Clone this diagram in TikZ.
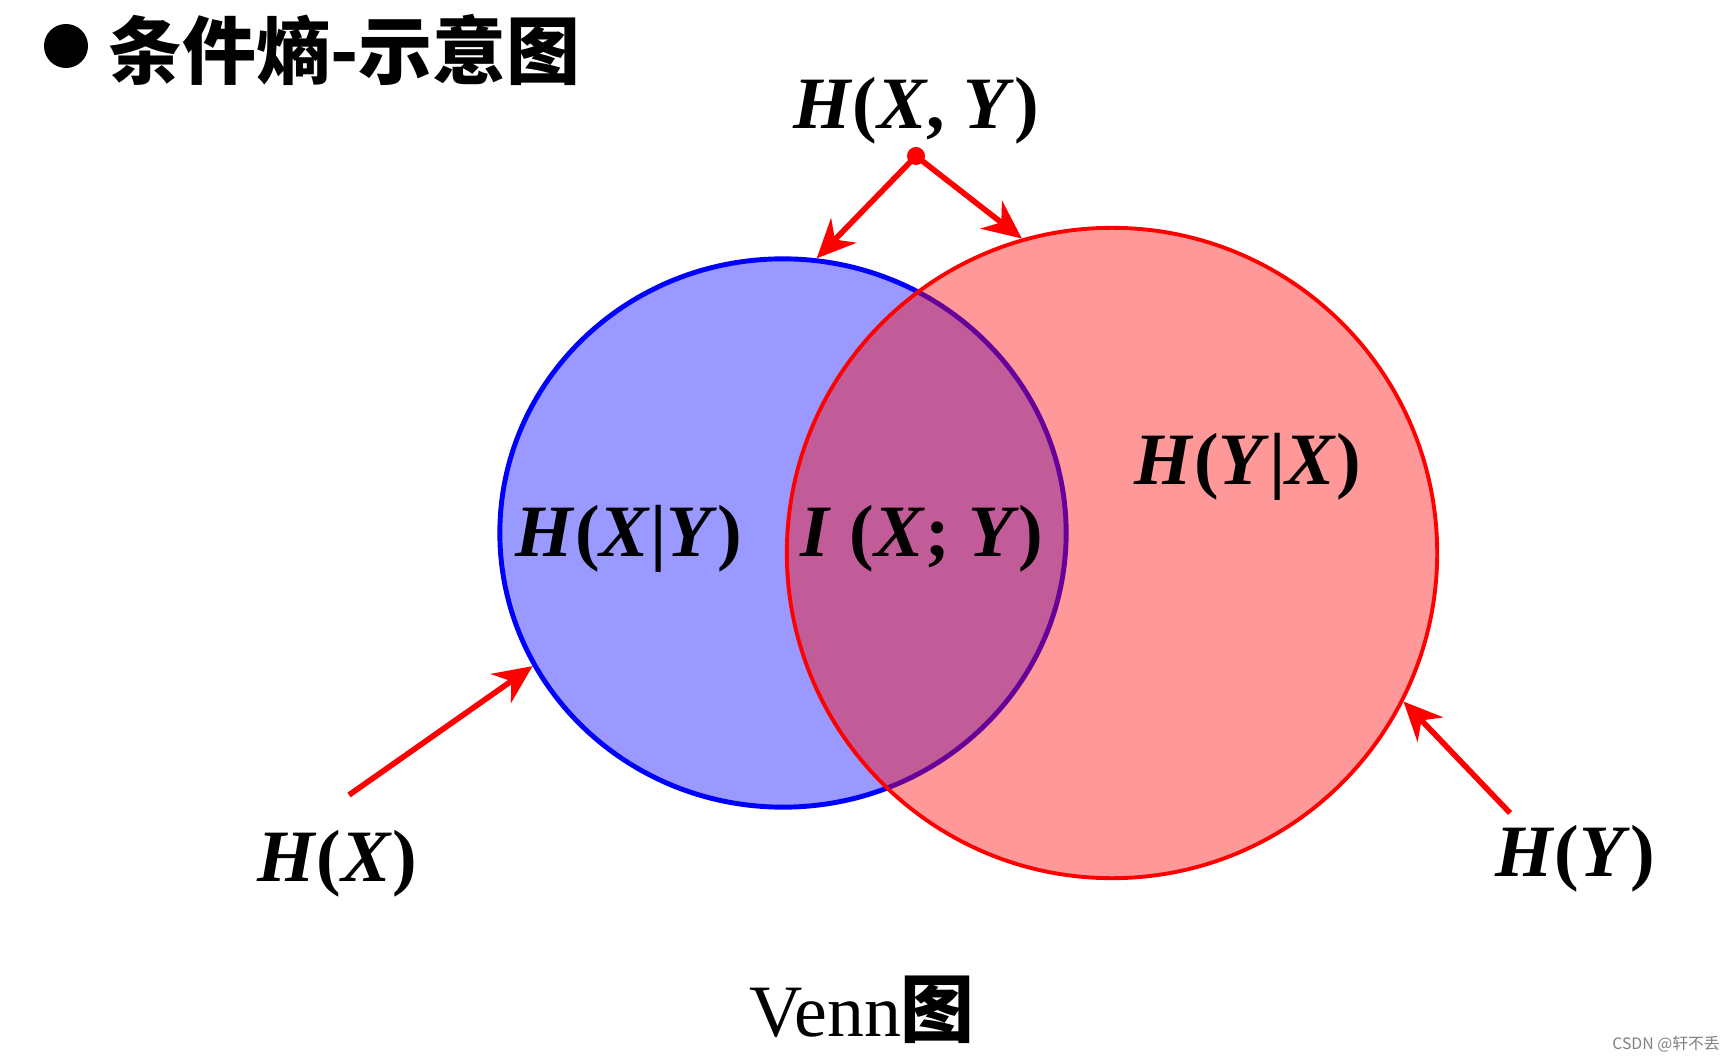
\documentclass[tikz,border=0pt]{standalone}
\usepackage{fontspec}
\setmainfont{Liberation Serif}
\newfontfamily\cjk{Noto Sans CJK SC}
\usetikzlibrary{arrows.meta, shapes.geometric}

% bold italic letter for the entropy labels
\newcommand{\bv}[1]{\textit{#1}}

\begin{document}
\begin{tikzpicture}[x=0.01cm, y=-0.01cm,
            setx/.style={ellipse, draw=blue, line width=1.4pt, fill=blue, fill opacity=0.4, minimum width=5.66cm, minimum height=5.48cm, inner sep=0pt},
            sety/.style={circle, draw=red, line width=1.1pt, fill=red, fill opacity=0.4, minimum size=6.5cm, inner sep=0pt},
            lbl/.style={font=\fontsize{21}{25}\selectfont\bfseries, inner sep=0pt},
            arr/.style={draw=red, line width=1.6pt, -{Stealth[length=11pt, width=10pt]}},
            dot/.style={circle, fill=red, inner sep=0pt, minimum size=0.18cm}
        ]
            \useasboundingbox (0,0) rectangle (1731,1061);

            % --- title ---
            \node[circle, fill=black, inner sep=0pt, minimum size=0.44cm] (bul) at (66,46) {};
            \node[anchor=west, font=\cjk\fontsize{21}{25}\selectfont\bfseries, inner sep=0pt] (title) at (108,50) {条件熵-示意图};

            % --- the two sets ---
            \node[setx] (setX) at (783,533) {};
            \node[sety] (setY) at (1112,553) {};

            % --- labels inside ---
            \node[lbl] (hxgy) at (629,539) {\bv{H}(\bv{X}|\bv{Y})};
            \node[lbl] (ixy) at (922,539) {\bv{I} (\bv{X}; \bv{Y})};
            \node[lbl] (hygx) at (1248,467) {\bv{H}(\bv{Y}|\bv{X})};

            % --- labels outside ---
            \node[lbl] (hxy) at (916,111) {\bv{H}(\bv{X}, \bv{Y})};
            \node[lbl] (hx) at (337,864) {\bv{H}(\bv{X})};
            \node[lbl] (hy) at (1575,859) {\bv{H}(\bv{Y})};

            % --- arrows ---
            \node[dot] (joint) at (916,156) {};
            \draw[arr] (joint.center) -- (setX.83);
            \draw[arr] (joint.center) -- (setY.106);

            \coordinate (hxtail) at (349,795);
            \coordinate (hytail) at (1510,813);
            \draw[arr] (hxtail) -- (setX.208);
            \draw[arr] (hytail) -- (setY.-27);

            % --- caption ---
            \node[font=\fontsize{21}{25}\selectfont, inner sep=0pt] (cap) at (862,1010) {Venn{\cjk\bfseries 图}};
            \node[font=\cjk\fontsize{4.5}{5}\selectfont, text=gray, inner sep=0pt] (mark) at (1666,1044) {CSDN @轩不丢};
        \end{tikzpicture}
\end{document}
